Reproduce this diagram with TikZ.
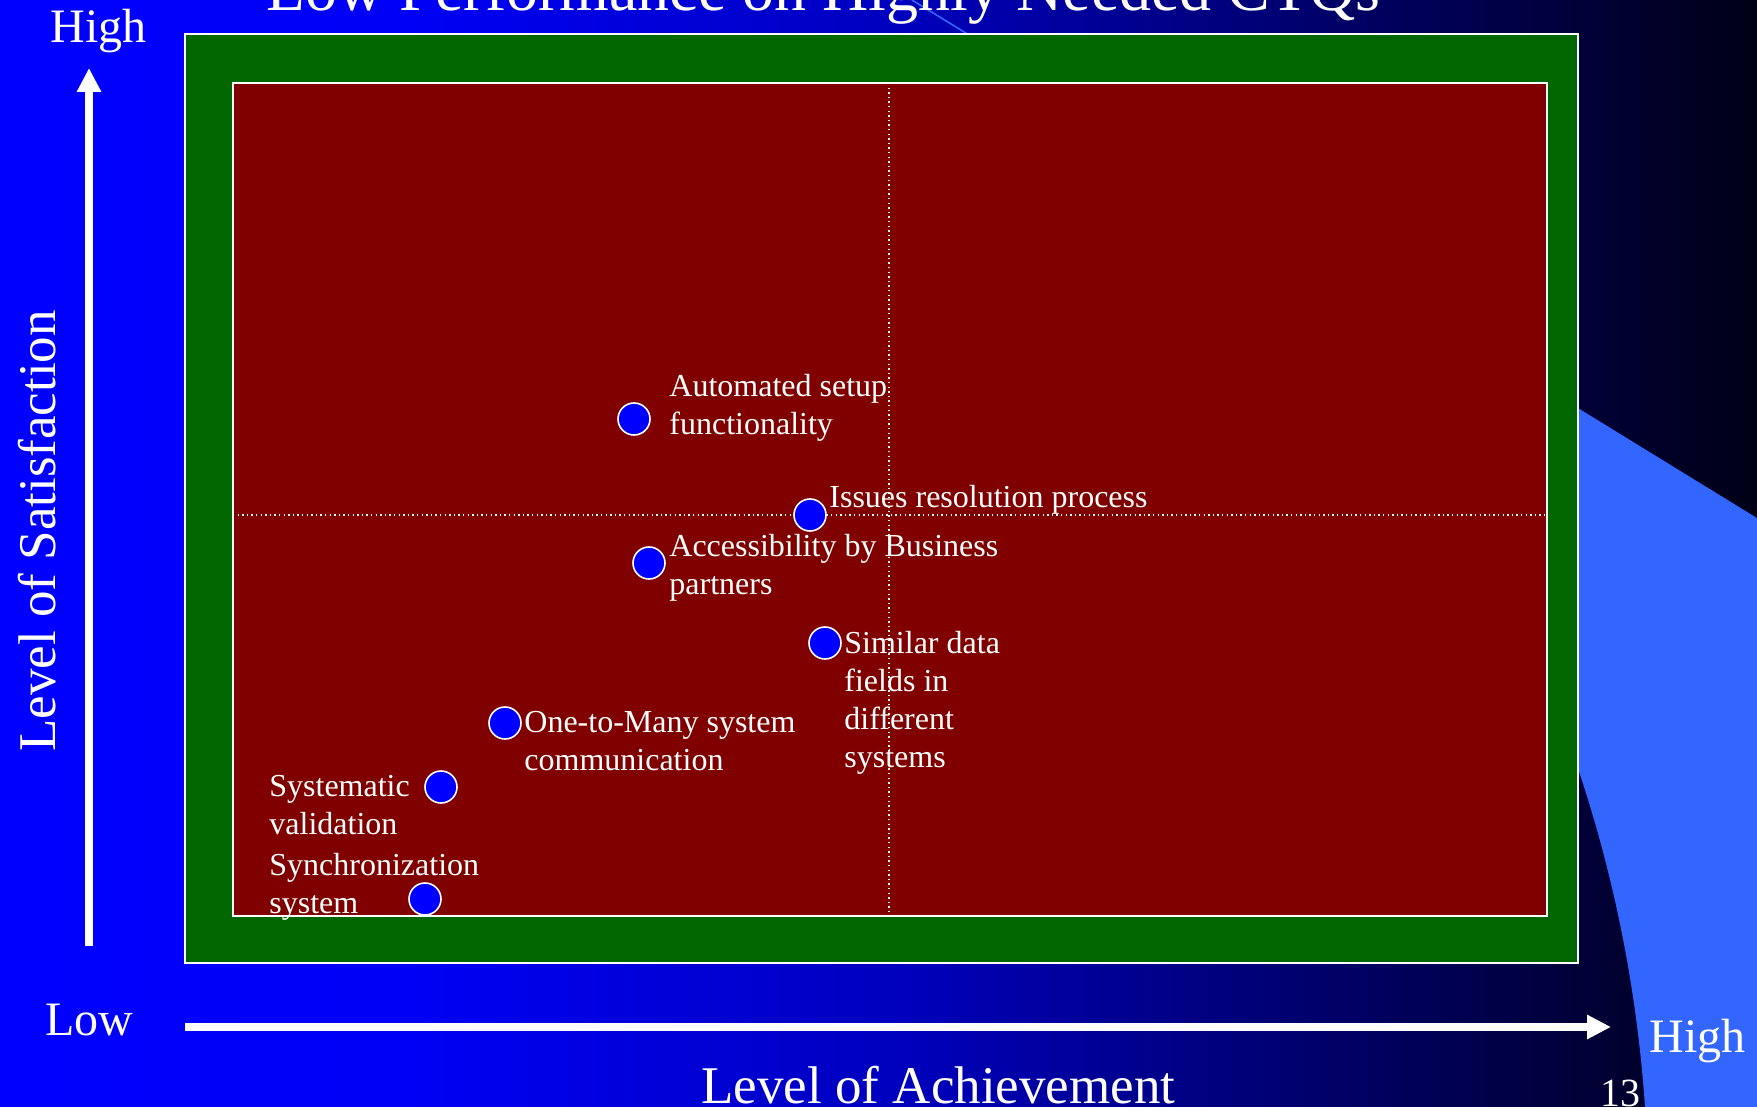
\documentclass[tikz,border=0pt]{standalone}
\usepackage{fontspec}
\setmainfont{Liberation Serif}
\usetikzlibrary{arrows.meta}
\definecolor{bgA}{RGB}{0,0,255}
\definecolor{bgB}{RGB}{0,0,246}
\definecolor{bgC}{RGB}{0,0,190}
\definecolor{bgD}{RGB}{0,0,110}
\definecolor{bgE}{RGB}{0,0,22}
\definecolor{swoosh}{RGB}{51,102,255}
\definecolor{frameGreen}{RGB}{0,102,0}
\definecolor{plotRed}{RGB}{128,0,0}
\pgfdeclarehorizontalshading{bgshade}{100bp}{color(0bp)=(bgA); color(25bp)=(bgA); color(36.4bp)=(bgB); color(50.6bp)=(bgC); color(62bp)=(bgD); color(75bp)=(bgE); color(100bp)=(bgE)}
\begin{document}
\begin{tikzpicture}[x=0.5pt,y=-0.5pt,
  lbl/.style={anchor=base west, inner sep=0pt, text=white, align=left, font=\fontsize{16}{19}\selectfont},
  dot/.style={circle, fill=blue, draw=white, line width=0.8pt, minimum size=16pt, inner sep=0pt},
  axislbl/.style={text=white, inner sep=0pt, font=\fontsize{26.5}{30}\selectfont},
  endlbl/.style={text=white, inner sep=0pt, anchor=base west, font=\fontsize{24}{28}\selectfont},
  axisarrow/.style={white, line width=4pt, -{Triangle[length=12pt,width=11.5pt]}},
  quadline/.style={white, line width=0.6pt, dash pattern=on 0.7pt off 1.6pt}]
\useasboundingbox (0,0) rectangle (1757,1107);
% background
\shade[shading=bgshade] (0,0) rectangle (1757,1107);
% swoosh
\fill[swoosh] (985,45) -- (1757,519) -- (1757,1107) -- (1645,1107)
  .. controls (1633,931) and (1587,758) .. (1508,600) -- (1100,200) -- cycle;
\draw[swoosh, line width=0.8pt] (912,0) -- (1757,519);
% title
\node[anchor=base west, inner sep=0pt, text=white, font=\fontsize{32}{36}\selectfont] (title) at (266,11) {Low Performance on Highly Needed CTQs};
% frames
\draw[white, line width=1pt, fill=frameGreen] (185,34) rectangle (1578,963);
\draw[white, line width=0.9pt, fill=plotRed] (233,83) rectangle (1547,916);
\coordinate (vtop) at (889,83);
\coordinate (vbot) at (889,916);
\coordinate (hleft) at (233,515);
\coordinate (hright) at (1547,515);
\draw[quadline] (vtop) -- (vbot);
\draw[quadline] (hleft) -- (hright);
% points
\node[dot] (p1) at (634,419) {};
\node[dot] (p2) at (810,515) {};
\node[dot] (p3) at (649,563) {};
\node[dot] (p4) at (825,643) {};
\node[dot] (p5) at (505,723) {};
\node[dot] (p6) at (441,787) {};
\node[dot] (p7) at (425,899) {};
% labels (anchor = baseline of the last line)
\node[lbl] (l1) at (669,434) {Automated setup\\functionality};
\node[lbl] (l2) at (829,507) {Issues resolution process};
\node[lbl] (l3) at (669,594) {Accessibility by Business\\partners};
\node[lbl] (l4) at (844,767) {Similar data\\fields in\\different\\systems};
\node[lbl] (l5) at (524,770) {One-to-Many system\\communication};
\node[lbl] (l6) at (269,834) {Systematic\\validation};
\node[lbl] (l7) at (269,913) {Synchronization\\system};
% axes
\coordinate (ybot) at (89,946);
\coordinate (ytop) at (89,68);
\draw[axisarrow] (ybot) -- (ytop);
\coordinate (xleft) at (185,1027);
\coordinate (xright) at (1611,1027);
\draw[axisarrow] (xleft) -- (xright);
\node[axislbl, rotate=90] (ylab) at (37,531) {Level of Satisfaction};
\node[axislbl, anchor=base west] (xlab) at (701,1103) {Level of Achievement};
\node[endlbl] (yhigh) at (50,43) {High};
\node[endlbl] (xlow) at (45,1035) {Low};
\node[endlbl] (xhigh) at (1649,1052) {High};
\node[anchor=base west, inner sep=0pt, text=white, font=\fontsize{20}{24}\selectfont] (pagenum) at (1600,1106) {13};
\end{tikzpicture}
\end{document}
